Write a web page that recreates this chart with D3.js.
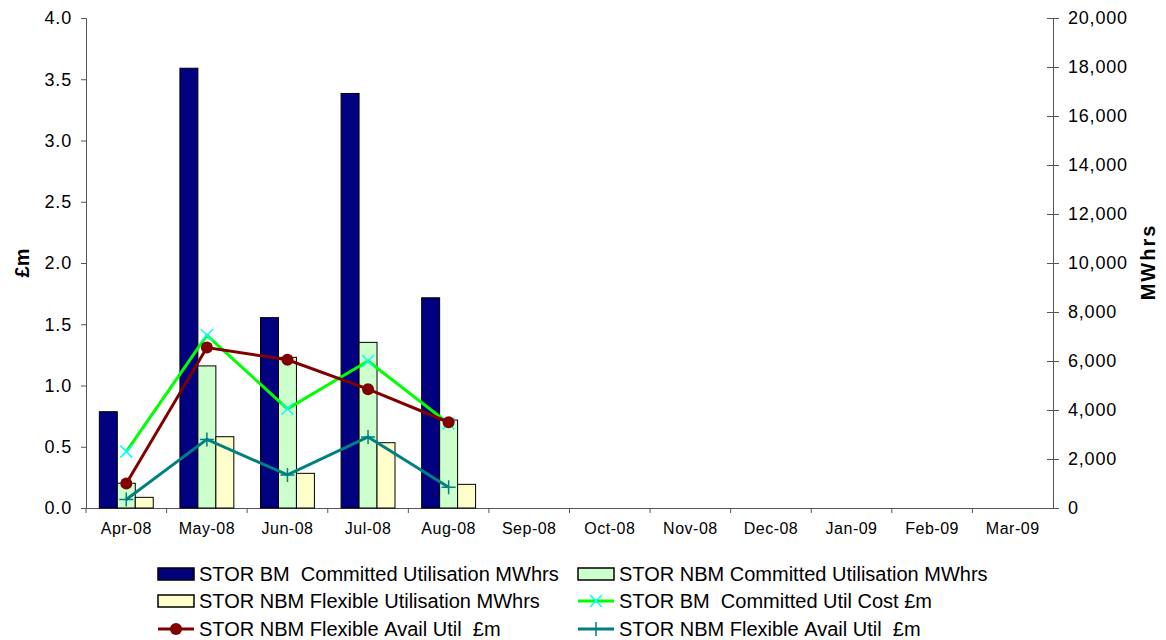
<!DOCTYPE html>
<html lang="en">
<head>
<meta charset="UTF-8">
<title>STOR utilisation</title>
<script src="https://cdn.jsdelivr.net/npm/d3@7"></script>
<style>
    body { margin: 0; background: #fff; }
    svg { font-family: "Liberation Sans", Arial, sans-serif; }
    .axis path, .axis line { stroke: #555; }
    .axis text { fill: #000; letter-spacing: 0.8px; }
    .bar { stroke: #000; stroke-width: 1px; }
    .line { fill: none; stroke-width: 3px; }
    .title { font-weight: bold; font-size: 20px; }
    .legend text { font-size: 20px; }
</style>
</head>
<body>
<svg width="1166" height="640"></svg>
<script>
    var months = ['Apr-08', 'May-08', 'Jun-08', 'Jul-08', 'Aug-08', 'Sep-08',
                  'Oct-08', 'Nov-08', 'Dec-08', 'Jan-09', 'Feb-09', 'Mar-09'];

    // MWhrs (right axis)
    var bmCommitted   = [3930, 17950, 7770, 16920, 8580];
    var nbmCommitted  = [1010, 5800, 6150, 6760, 3590];
    var nbmFlexible   = [435, 2910, 1415, 2665, 965];

    // £m (left axis)
    var bmCommittedCost = [0.46, 1.41, 0.81, 1.20, 0.69];
    var nbmFlexCostA    = [0.20, 1.31, 1.21, 0.97, 0.70];
    var nbmFlexCostB    = [0.07, 0.56, 0.27, 0.58, 0.17];

    var leftTicks  = [0, 0.5, 1, 1.5, 2, 2.5, 3, 3.5, 4];
    var rightTicks = [0, 2000, 4000, 6000, 8000, 10000, 12000, 14000, 16000, 18000, 20000];

    var svg = d3.select('svg'),
        plotL = 86, plotR = 1053, plotT = 18, plotB = 508;

    var x = d3.scaleBand().domain(months).range([plotL, plotR]);
    var yL = d3.scaleLinear().domain([0, 4]).range([plotB, plotT]);
    var yR = d3.scaleLinear().domain([0, 20000]).range([plotB, plotT]);

    var bw = x.step() * 0.223;

    // axes
    svg.append('g')
        .attr('class', 'axis')
        .attr('transform', 'translate(' + plotL + ',0)')
        .call(d3.axisLeft(yL).tickValues(leftTicks).tickFormat(d3.format('.1f')).tickSize(5).tickPadding(9))
        .call(function(g) { g.selectAll('text').style('font-size', '18px'); });

    var ra = svg.append('g')
        .attr('class', 'axis')
        .attr('transform', 'translate(' + plotR + ',0)')
        .call(d3.axisRight(yR).tickValues(rightTicks).tickFormat(d3.format(',')).tickSize(6).tickPadding(9));
    ra.selectAll('text').style('font-size', '18px');
    ra.selectAll('.tick line').attr('x1', -6);

    var xa = svg.append('g')
        .attr('class', 'axis')
        .attr('transform', 'translate(0,' + plotB + ')')
        .call(d3.axisBottom(x).tickSize(0).tickPadding(15));
    xa.selectAll('text').style('font-size', '16px').style('letter-spacing', '0.5px');
    xa.selectAll('.sep')
        .data(d3.range(0, months.length))
        .enter().append('line')
        .attr('x1', function(i) { return x(months[i]); })
        .attr('x2', function(i) { return x(months[i]); })
        .attr('y1', 0).attr('y2', 5)
        .attr('stroke', '#555');

    svg.append('text').attr('class', 'title')
        .attr('transform', 'translate(29,263) rotate(-90)')
        .attr('text-anchor', 'middle').text('£m');
    svg.append('text').attr('class', 'title')
        .attr('transform', 'translate(1155,262) rotate(-90)')
        .attr('text-anchor', 'middle').style('letter-spacing', '2px').text('MWhrs');

    // bars
    var barSeries = [
        { values: bmCommitted, color: '#000080' },
        { values: nbmCommitted, color: '#ccffcc' },
        { values: nbmFlexible, color: '#ffffcc' }
    ];
    barSeries.forEach(function(s, si) {
        svg.selectAll('.bar' + si)
            .data(s.values)
            .enter().append('rect')
            .attr('class', 'bar')
            .attr('x', function(d, i) { return x(months[i]) + x.bandwidth() / 2 - 1.5 * bw + si * bw; })
            .attr('y', function(d) { return yR(d); })
            .attr('width', bw)
            .attr('height', function(d) { return plotB - yR(d); })
            .attr('fill', s.color);
    });

    // lines
    var cx = function(i) { return x(months[i]) + x.bandwidth() / 2; };
    var line = d3.line()
        .x(function(d, i) { return cx(i); })
        .y(function(d) { return yL(d); });

    function marker(g, type, px, py, color) {
        if (type === 'x') {
            g.append('path').attr('d', 'M' + (px - 6) + ',' + (py - 6) + 'L' + (px + 6) + ',' + (py + 6) +
                'M' + (px - 6) + ',' + (py + 6) + 'L' + (px + 6) + ',' + (py - 6))
                .attr('stroke', color).attr('stroke-width', 1.5);
        } else if (type === 'circle') {
            g.append('circle').attr('cx', px).attr('cy', py).attr('r', 6).attr('fill', color);
        } else {
            g.append('path').attr('d', 'M' + (px - 7) + ',' + py + 'L' + (px + 7) + ',' + py +
                'M' + px + ',' + (py - 7) + 'L' + px + ',' + (py + 7))
                .attr('stroke', color).attr('stroke-width', 1.5);
        }
    }

    var lineSeries = [
        { values: bmCommittedCost, color: '#00ff00', mk: 'x', mkColor: '#00ffff' },
        { values: nbmFlexCostA, color: '#800000', mk: 'circle', mkColor: '#800000' },
        { values: nbmFlexCostB, color: '#008080', mk: 'plus', mkColor: '#008080' }
    ];
    lineSeries.forEach(function(s) {
        var g = svg.append('g');
        g.append('path').datum(s.values).attr('class', 'line')
            .attr('stroke', s.color).attr('d', line);
        s.values.forEach(function(d, i) { marker(g, s.mk, cx(i), yL(d), s.mkColor); });
    });

    // legend
    var legendItems = [
        { label: 'STOR BM  Committed Utilisation MWhrs', kind: 'bar', color: '#000080' },
        { label: 'STOR NBM Committed Utilisation MWhrs', kind: 'bar', color: '#ccffcc' },
        { label: 'STOR NBM Flexible Utilisation MWhrs', kind: 'bar', color: '#ffffcc' },
        { label: 'STOR BM  Committed Util Cost £m', kind: 'line', color: '#00ff00', mk: 'x', mkColor: '#00ffff' },
        { label: 'STOR NBM Flexible Avail Util  £m', kind: 'line', color: '#800000', mk: 'circle', mkColor: '#800000' },
        { label: 'STOR NBM Flexible Avail Util  £m', kind: 'line', color: '#008080', mk: 'plus', mkColor: '#008080' }
    ];
    var colX = [158, 578], rowY = [574, 601, 629];
    var lg = svg.append('g').attr('class', 'legend');
    legendItems.forEach(function(it, k) {
        var lx = colX[k % 2], ly = rowY[Math.floor(k / 2)];
        var g = lg.append('g');
        if (it.kind === 'bar') {
            g.append('rect').attr('x', lx).attr('y', ly - 6).attr('width', 36).attr('height', 12)
                .attr('fill', it.color).attr('stroke', '#000').attr('stroke-width', 1.5);
        } else {
            g.append('line').attr('x1', lx).attr('x2', lx + 36).attr('y1', ly).attr('y2', ly)
                .attr('stroke', it.color).attr('stroke-width', 3);
            marker(g, it.mk, lx + 18, ly, it.mkColor);
        }
        g.append('text').attr('x', lx + 41).attr('y', ly + 7).text(it.label.replace(/ /g, '\u00a0'));
    });
</script>
</body>
</html>
